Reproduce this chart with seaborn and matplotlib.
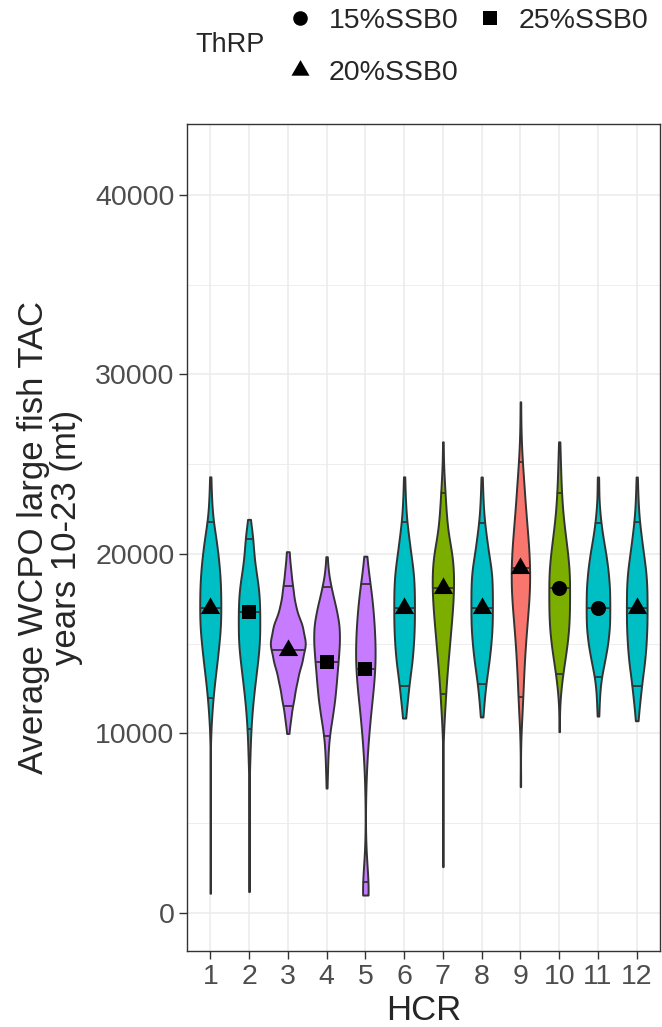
import numpy as np
import pandas as pd
import matplotlib
matplotlib.use("Agg")
import matplotlib.pyplot as plt
from matplotlib.lines import Line2D
from matplotlib.markers import MarkerStyle
import seaborn as sns

# ---------------------------------------------------------------- data
hcr = ["1", "2", "3", "4", "5", "6", "7", "8", "9", "10", "11", "12"]
hcr_type = ["type 3", "type 3", "type 4", "type 4", "type 4", "type 3",
            "type 2", "type 3", "type 1", "type 2", "type 3", "type 3"]
thrp = ["20%SSB0", "25%SSB0", "20%SSB0", "25%SSB0", "25%SSB0", "20%SSB0",
        "20%SSB0", "20%SSB0", "20%SSB0", "15%SSB0", "15%SSB0", "20%SSB0"]

# summary statistics of the average TAC (mt) per HCR
tac_median = [17000, 16770, 14650, 14000, 13610, 17000,
              18100, 16980, 19210, 18100, 16980, 16980]
tac_q025 = [11980, 10250, 11550, 9860, 1740, 12640,
            12200, 12750, 12050, 13310, 13170, 12640]
tac_q975 = [21800, 20830, 18210, 18150, 18320, 21800,
            23390, 21740, 25120, 23390, 21740, 21800]
tac_min = [1100, 1190, 10190, 6960, 1000, 10860,
           2580, 10920, 7040, 10100, 10970, 10710]
tac_max = [24300, 21930, 20130, 19850, 19880, 24300,
           26250, 24290, 28480, 26250, 24290, 24290]

# simulated average TAC, tallied on 1000 mt levels
tac_level = [1000, 2000, 3000, 4000, 5000, 6000, 7000, 8000, 9000, 10000,
             11000, 12000, 13000, 14000, 15000, 16000, 17000, 18000, 19000,
             20000, 21000, 22000, 23000, 24000, 25000, 26000, 27000, 28000]
count_hcr1 = [0, 0, 0, 0, 0, 0, 0, 0, 0, 1, 3, 6, 10, 15, 19, 23, 23, 23, 21, 17, 12, 5, 3, 1, 0, 0, 0, 0]
count_hcr2 = [0, 0, 0, 0, 0, 0, 0, 1, 2, 3, 5, 8, 12, 16, 20, 20, 20, 19, 13, 8, 8, 0, 0, 0, 0, 0, 0, 0]
count_hcr3 = [0, 0, 0, 0, 0, 0, 0, 0, 0, 1, 6, 12, 18, 27, 35, 28, 15, 10, 6, 2, 0, 0, 0, 0, 0, 0, 0, 0]
count_hcr4 = [0, 0, 0, 0, 0, 0, 0, 2, 3, 6, 12, 17, 20, 23, 26, 26, 19, 10, 3, 0, 0, 0, 0, 0, 0, 0, 0, 0]
count_hcr5 = [12, 4, 2, 0, 0, 0, 1, 2, 4, 7, 10, 14, 19, 21, 21, 18, 16, 13, 5, 0, 0, 0, 0, 0, 0, 0, 0, 0]
count_hcr6 = [0, 0, 0, 0, 0, 0, 0, 0, 0, 0, 3, 8, 12, 18, 21, 23, 23, 23, 21, 15, 10, 5, 3, 1, 0, 0, 0, 0]
count_hcr7 = [0, 0, 0, 0, 0, 0, 0, 0, 0, 1, 3, 5, 7, 10, 13, 16, 19, 21, 21, 19, 10, 7, 5, 3, 1, 0, 0, 0]
count_hcr8 = [0, 0, 0, 0, 0, 0, 0, 0, 0, 0, 2, 6, 10, 16, 20, 23, 23, 23, 22, 15, 10, 5, 3, 1, 0, 0, 0, 0]
count_hcr9 = [0, 0, 0, 0, 0, 0, 0, 0, 0, 1, 3, 5, 6, 8, 10, 13, 16, 19, 19, 18, 15, 12, 9, 7, 4, 2, 1, 0]
count_hcr10 = [0, 0, 0, 0, 0, 0, 0, 0, 0, 0, 0, 2, 6, 12, 18, 22, 23, 23, 23, 19, 14, 9, 6, 4, 3, 1, 0, 0]
count_hcr11 = [0, 0, 0, 0, 0, 0, 0, 0, 0, 0, 1, 3, 6, 14, 21, 25, 25, 25, 22, 17, 10, 5, 2, 1, 0, 0, 0, 0]
count_hcr12 = [0, 0, 0, 0, 0, 0, 0, 0, 0, 0, 3, 8, 12, 18, 21, 23, 23, 23, 21, 15, 10, 5, 3, 1, 0, 0, 0, 0]

thrp_levels = ["15%SSB0", "20%SSB0", "25%SSB0"]
type_colors = {"type 1": "#F8766D", "type 2": "#7CAE00",
               "type 3": "#00BFC4", "type 4": "#C77CFF"}

# ---------------------------------------------------------------- frames
counts = [count_hcr1, count_hcr2, count_hcr3, count_hcr4, count_hcr5, count_hcr6,
          count_hcr7, count_hcr8, count_hcr9, count_hcr10, count_hcr11, count_hcr12]
parts = []
for h, kind, cnt, lo, hi in zip(hcr, hcr_type, counts, tac_min, tac_max):
    vals = np.concatenate([[lo], np.repeat(tac_level, cnt), [hi]])
    parts.append(pd.DataFrame({"HCR": h, "type": kind, "TAC": vals}))
sims = pd.concat(parts, ignore_index=True)

summary = pd.DataFrame({"HCR": hcr, "ThRP": thrp, "median": tac_median,
                        "q025": tac_q025, "q975": tac_q975})

# ---------------------------------------------------------------- figure
sns.set_theme(style="white")
plt.rcParams["font.family"] = ["Liberation Sans", "DejaVu Sans"]

W, H = 662, 1027
fig = plt.figure(figsize=(W / 100, H / 100), dpi=100)
ax = fig.add_axes([187 / W, 1 - 951 / H, (660 - 187) / W, (951 - 124) / H])

edge = "#333333"
# equal-area violins, scaled against the widest one across all groups
sns.violinplot(data=sims, x="HCR", y="TAC", hue="type", order=hcr,
               palette=type_colors, dodge=False, density_norm="area",
               common_norm=True, cut=0, bw_adjust=0.7, gridsize=300,
               width=0.9, inner=None, linewidth=1.4, linecolor=edge,
               saturation=1, legend=False, ax=ax)

# violin outlines, keyed by category position
violin_paths = {}
for coll in ax.collections:
    for path in coll.get_paths():
        xs = path.vertices[:, 0]
        violin_paths[int(round((xs.min() + xs.max()) / 2))] = path

# quantile lines clipped to each violin body
for i, row in summary.iterrows():
    path = violin_paths[i]
    xs = path.vertices[:, 0]
    for q in (row["q025"], row["median"], row["q975"]):
        ln = ax.hlines(q, xs.min(), xs.max(), color=edge, lw=1.3, zorder=3)
        ln.set_clip_path(path, ax.transData)

# point markers (triangle centred on its centroid)
tri = MarkerStyle([(0, 1), (-0.866, -0.5), (0.866, -0.5), (0, 1)])
marker_style = {"15%SSB0": MarkerStyle("o"), "20%SSB0": tri, "25%SSB0": MarkerStyle("s")}
marker_size = {"15%SSB0": 10.8, "20%SSB0": 16, "25%SSB0": 10.2}
for level in thrp_levels:
    sub = summary[summary["ThRP"] == level]
    sns.pointplot(data=sub, x="HCR", y="median", order=hcr, color="black",
                  markers=marker_style[level], linestyles="none", errorbar=None,
                  markersize=marker_size[level], markeredgewidth=0, zorder=5, ax=ax)

# ---------------------------------------------------------------- axes styling
ax.set_xlim(-0.6, len(hcr) - 0.4)
ax.set_ylim(-2117, 43955)
ax.set_yticks([0, 10000, 20000, 30000, 40000])
ax.set_yticks([5000, 15000, 25000, 35000], minor=True)
ax.set_axisbelow(True)
ax.grid(True, which="major", color="#EBEBEB", lw=1.1)
ax.grid(True, which="minor", axis="y", color="#EBEBEB", lw=0.6)
ax.tick_params(which="major", length=6, width=1.0, color=edge,
               labelsize=20.5, labelcolor="#4D4D4D", pad=3,
               bottom=True, left=True)
ax.tick_params(which="minor", length=0)
for s in ax.spines.values():
    s.set_visible(True)
    s.set_color(edge)
    s.set_linewidth(1.0)
ax.set_xlabel("")
ax.set_ylabel("")

fig.text(424 / W, 1 - 1010 / H, "HCR", ha="center", va="center", fontsize=25)
fig.text(50 / W, 1 - 537 / H, "Average WCPO large fish TAC\nyears 10-23 (mt)",
         rotation=90, ha="center", va="center", multialignment="center",
         fontsize=25, linespacing=1.0)

# ---------------------------------------------------------------- legend
fig.text(195 / W, 1 - 45 / H, "ThRP", ha="left", va="center", fontsize=19.5)
handles = [Line2D([], [], ls="none", color="black", mew=0,
                  marker=marker_style[lv],
                  markersize={"15%SSB0": 10.5, "20%SSB0": 15, "25%SSB0": 10.5}[lv],
                  label=lv) for lv in thrp_levels]
fig.legend(handles=handles, loc="upper left", bbox_to_anchor=(286 / W, 1 - 8 / H),
           ncol=2, frameon=False, fontsize=20.5, handlelength=1.0,
           handletextpad=0.5, columnspacing=0.6, labelspacing=0.9,
           borderpad=0, borderaxespad=0)

fig.savefig("out.png", dpi=100)
